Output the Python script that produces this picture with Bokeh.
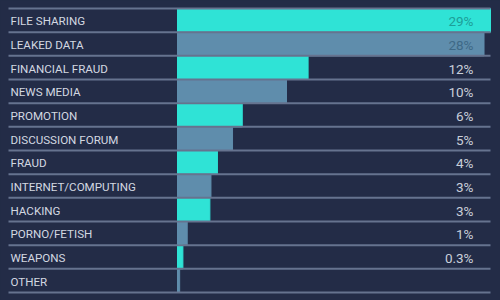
from bokeh.plotting import figure
from bokeh.models import ColumnDataSource, Range1d
from bokeh.core.properties import value
from bokeh.embed import file_html
from bokeh.resources import INLINE

categories = ["FILE SHARING", "LEAKED DATA", "FINANCIAL FRAUD", "NEWS MEDIA",
              "PROMOTION", "DISCUSSION FORUM", "FRAUD", "INTERNET/COMPUTING",
              "HACKING", "PORNO/FETISH", "WEAPONS", "OTHER"]
values = [29, 28.4, 12.1, 10.1, 6, 5.1, 3.7, 3.1, 3, 0.9, 0.5, 0.2]
value_labels = ["29%", "28%", "12%", "10%", "6%", "5%", "4%", "3%", "3%", "1%", "0.3%", ""]

BG = "#232c47"
CYAN = "#2fe3d6"
STEEL = "#5f8dac"

n = len(categories)
ys = [n - i - 0.5 for i in range(n)]
colors = [CYAN if i % 2 == 0 else STEEL for i in range(n)]
label_colors = []
for i in range(n):
    if i == 0:
        label_colors.append("#1d9e98")
    elif i == 1:
        label_colors.append("#3e6987")
    else:
        label_colors.append("#c9cfda")

W, H = 500, 300
zero_px = 177
scale = 313 / 29.0
x0 = -zero_px / scale
x1 = (W - zero_px) / scale
row_px = 284 / 12.0
y_lo = -8 / row_px
y_hi = n + 8 / row_px

src = ColumnDataSource(dict(y=ys, v=values, c=colors, cat=categories,
                            lab=value_labels, lc=label_colors))

p = figure(width=W, height=H, output_backend="svg", toolbar_location=None,
           x_range=Range1d(x0, x1), y_range=Range1d(y_lo, y_hi),
           min_border=0, min_border_left=0, min_border_right=0,
           min_border_top=0, min_border_bottom=0)
p.background_fill_color = BG
p.border_fill_color = BG
p.outline_line_color = None
p.axis.visible = False
p.grid.visible = False

p.hbar(y="y", left=0, right="v", height=1, color="c", source=src)

sep_y = list(range(n + 1))
p.segment(x0=[x0 + 8 / scale] * len(sep_y), x1=[29.0] * len(sep_y), y0=sep_y, y1=sep_y,
          line_color="#66738f", line_width=2)

p.text(x=x0 + 10 / scale, y="y", text="cat", source=src, y_offset=1,
       text_font=value("Roboto"), text_font_size="11.6px",
       text_color="#d3d8e1", text_baseline="middle", text_align="left")

p.text(x=x0 + 473 / scale, y="y", text="lab", source=src, y_offset=1,
       text_font=value("Roboto"), text_font_size="13.5px",
       text_color="lc", text_baseline="middle", text_align="right")

html = file_html(p, INLINE)
html = html.replace("<body>", '<body style="background:%s">' % BG)
open("out.html", "w").write(html)
